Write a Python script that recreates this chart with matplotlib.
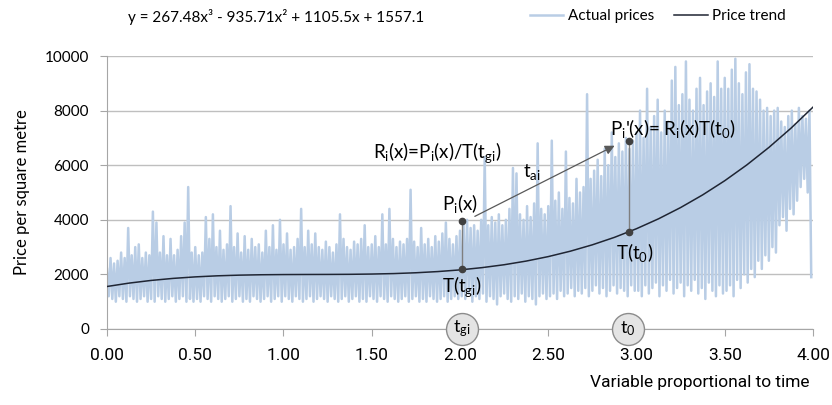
import numpy as np
import matplotlib
matplotlib.use('Agg')
import matplotlib.pyplot as plt

plt.rcParams['font.family'] = ['Lato', 'DejaVu Sans']
plt.rcParams['mathtext.fontset'] = 'custom'
plt.rcParams['mathtext.rm'] = 'Lato'
plt.rcParams['mathtext.it'] = 'Lato:italic'
narrow = ['DejaVu Sans Condensed', 'Roboto', 'DejaVu Sans']

price_step = 0.02
price_hi = [22, 26, 24, 25, 28, 26, 37, 27, 30, 31, 26, 28, 27, 43, 39, 28, 34, 27, 33, 27, 29, 34, 39, 52, 28,
            30, 27, 28, 41, 33, 42, 30, 36, 29, 31, 45, 30, 35, 28, 34, 29, 33, 30, 31, 28, 36, 30, 38, 29, 40,
            31, 35, 29, 30, 33, 44, 30, 36, 31, 35, 30, 29, 32, 30, 28, 31, 42, 33, 30, 29, 32, 31, 33, 38, 30,
            31, 34, 30, 42, 31, 44, 33, 30, 32, 31, 33, 51, 32, 30, 37, 31, 33, 30, 34, 32, 35, 39, 33, 31, 34,
            36, 39, 40, 37, 38, 36, 40, 63, 38, 41, 39, 42, 38, 40, 44, 59, 57, 42, 40, 45, 41, 46, 68, 44, 42,
            45, 69, 47, 50, 44, 65, 48, 46, 55, 50, 52, 86, 55, 58, 62, 56, 66, 60, 72, 63, 68, 65, 70, 66, 69,
            72, 80, 70, 88, 74, 78, 84, 72, 80, 76, 91, 96, 82, 86, 98, 84, 80, 88, 92, 82, 87, 90, 85, 98, 88,
            92, 88, 95, 99, 90, 86, 94, 97, 88, 87, 84, 80, 81, 78, 80, 81, 76, 74, 78, 80, 75, 81, 78, 77, 80]
price_lo = [12, 11, 10, 12, 11, 10, 12, 11, 10, 11, 12, 10, 11, 10, 12, 11, 10, 11, 12, 10, 11, 12, 10, 11, 10,
            11, 10, 12, 11, 10, 12, 11, 10, 11, 12, 10, 11, 12, 10, 11, 10, 12, 11, 10, 11, 12, 10, 11, 12, 10,
            12, 11, 10, 12, 11, 10, 11, 12, 10, 11, 12, 11, 10, 12, 11, 10, 11, 12, 10, 11, 12, 10, 11, 10, 12,
            11, 10, 12, 11, 10, 12, 11, 10, 11, 12, 10, 11, 12, 10, 11, 10, 12, 11, 10, 11, 12, 10, 11, 12, 11,
            12, 11, 13, 10, 12, 11, 13, 10, 12, 11, 9, 12, 13, 11, 10, 12, 11, 13, 10, 12, 11, 9, 12, 13, 11,
            12, 13, 11, 14, 12, 13, 15, 12, 14, 13, 15, 12, 14, 16, 13, 15, 12, 14, 16, 13, 15, 14, 12, 16, 14,
            14, 12, 16, 13, 15, 17, 12, 16, 14, 18, 13, 15, 17, 12, 16, 14, 18, 13, 15, 11, 17, 14, 12, 16, 13,
            14, 16, 12, 18, 15, 20, 17, 22, 19, 25, 22, 27, 25, 30, 28, 38, 41, 36, 44, 42, 47, 52, 55, 50, 19]

trend_x = [0, 0.125, 0.25, 0.375, 0.5, 0.625, 0.75, 0.875, 1, 1.125, 1.25, 1.375, 1.5, 1.625, 1.75, 1.875,
           2, 2.125, 2.25, 2.375, 2.5, 2.625, 2.75, 2.875, 3, 3.125, 3.25, 3.375, 3.5, 3.625, 3.75, 3.875, 4]
trend_y = [1557, 1681, 1779, 1854, 1909, 1948, 1973, 1987, 1994, 1997, 1999, 2003, 2013, 2030, 2060, 2104,
           2165, 2248, 2354, 2488, 2652, 2850, 3084, 3357, 3674, 4037, 4449, 4913, 5432, 6010, 6650, 7354, 8127]

xticks = [0, 0.5, 1, 1.5, 2, 2.5, 3, 3.5, 4]
yticks = [0, 2000, 4000, 6000, 8000, 10000]

# annotation points
t_gi, p_i, T_gi = 2.01, 3950, 2180
t_0, p_i2, T_0 = 2.96, 6880, 3560

n = len(price_hi)
px = np.empty(2 * n); px[0::2] = np.arange(n) * price_step; px[1::2] = px[0::2] + price_step / 2
py = np.empty(2 * n); py[0::2] = np.array(price_hi) * 100; py[1::2] = np.array(price_lo) * 100

fig = plt.figure(figsize=(8.32, 4.05), dpi=100)
ax = fig.add_axes([107 / 832, 76 / 405, 706 / 832, 273 / 405])
grey = '#a6a6a6'
ax.set_axisbelow(True)
ax.grid(axis='y', color='#bfbfbf', lw=1)
ax.plot(px, py, color='#b9cde5', lw=1.8, label='Actual prices', zorder=2)
ax.plot(trend_x, trend_y, color='#1f2533', lw=1.1, label='Price trend', zorder=3)

ax.set_xlim(0, 4); ax.set_ylim(0, 10000)
ax.set_xticks(xticks); ax.set_yticks(yticks)
ax.set_xticklabels([f'{v:.2f}' for v in xticks], fontfamily=narrow, fontsize=12.5)
ax.set_yticklabels([str(v) for v in yticks], fontsize=11)
ax.tick_params(axis='x', direction='out', length=5, color=grey, pad=9)
ax.tick_params(axis='y', direction='out', length=5, color=grey, pad=8)
for s in ['top', 'right']: ax.spines[s].set_visible(False)
for s in ['left', 'bottom']: ax.spines[s].set_color(grey)

# ratio construction
ax.plot([t_gi, t_gi], [T_gi, p_i], color='#7f7f7f', lw=1, zorder=4)
ax.plot([t_0, t_0], [T_0, p_i2], color='#7f7f7f', lw=1, zorder=4)
ax.plot([t_gi, t_gi, t_0, t_0], [T_gi, p_i, T_0, p_i2], 'o', color='#404040', ms=4.5, zorder=5)
ax.annotate('', xy=(2.89, 6760), xytext=(2.07, 4080),
            arrowprops=dict(arrowstyle='-|>', color='#595959', lw=0.9, mutation_scale=14), zorder=4)
fs = 13.5
ax.text(2.00, 4600, r'$\mathregular{P_i}$(x)', ha='center', va='center', fontsize=fs)
ax.text(2.01, 1540, r'T($\mathregular{t_{gi}}$)', ha='center', va='center', fontsize=fs)
ax.text(1.87, 6480, r'$\mathregular{R_i}$(x)=$\mathregular{P_i}$(x)/T($\mathregular{t_{gi}}$)', ha='center', va='center', fontsize=fs)
ax.text(2.41, 5750, r'$\mathregular{t_{ai}}$', ha='center', va='center', fontsize=fs)
ax.text(2.85, 7360, r"$\mathregular{P_i}$'(x)= $\mathregular{R_i}$(x)T($\mathregular{t_0}$)", ha='left', va='center', fontsize=fs)
ax.text(2.99, 2820, r'T($\mathregular{t_0}$)', ha='center', va='center', fontsize=fs)
for xc, lab in [(t_gi, r'$\mathregular{t_{gi}}$'), (2.95, r'$\mathregular{t_0}$')]:
    ax.plot(xc, 0, 'o', ms=23, mfc='#e4e4e4', mec='#8c8c8c', mew=1, clip_on=False, zorder=6)
    ax.text(xc, 0, lab, ha='center', va='center', fontsize=13, zorder=7)

fig.text(128 / 832, 1 - 17 / 405, 'y = 267.48x³ - 935.71x² + 1105.5x + 1557.1', fontsize=11, va='center')
h, l = ax.get_legend_handles_labels()
fig.legend(h, l, ncol=2, loc='center left', bbox_to_anchor=(516 / 832, 1 - 16 / 405), frameon=False,
           fontsize=11, handlelength=2.2, handletextpad=0.3, columnspacing=1.3)
fig.text(22 / 832, 1 - 192 / 405, 'Price per square metre', rotation=90, ha='center', va='center', fontsize=12)
fig.text(809 / 832, 1 - 383 / 405, 'Variable proportional to time', ha='right', va='center',
         fontfamily=narrow, fontsize=12.5)
fig.savefig('out.png', dpi=100)
